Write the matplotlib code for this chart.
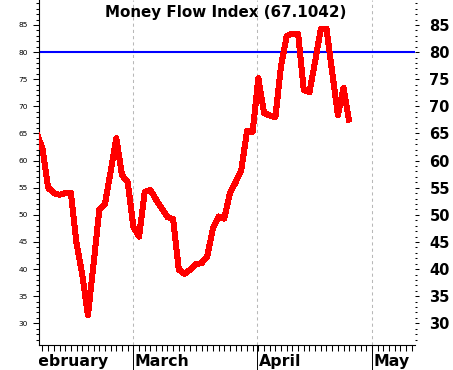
import matplotlib
matplotlib.use('Agg')
import matplotlib.pyplot as plt
import numpy as np
from matplotlib.transforms import Bbox, TransformedBbox, blended_transform_factory, offset_copy

plt.rcParams['font.family'] = ['DejaVu Sans']

# ---- data (trading-day index, Money Flow Index value) ----
days = list(range(-1, 55))
mfi = [65.0, 62.2, 55.0, 54.0, 53.7, 54.0, 54.0, 44.7, 39.0, 31.5,
       41.0, 50.9, 52.0, 58.0, 64.1, 57.3, 56.1, 47.8, 46.0, 54.2,
       54.6, 52.8, 51.2, 49.6, 49.2, 39.9, 39.1, 39.9, 40.9, 41.1,
       42.3, 47.5, 49.7, 49.3, 54.0, 56.0, 58.3, 65.4, 65.3, 75.2,
       68.8, 68.3, 68.0, 77.5, 83.0, 83.4, 83.4, 73.0, 72.6, 78.3,
       84.3, 84.3, 76.3, 68.4, 73.4, 67.1]
months = ['February', 'March', 'April', 'May']
month_start = [-2.75, 15.85, 37.85, 57.95]
overbought = 80
yticks_major = list(range(30, 90, 5))
yticks_minor = list(range(27, 90))
title = 'Money Flow Index (67.1042)'

W, H = 453, 370
fig = plt.figure(figsize=(W / 100, H / 100), dpi=100)
L = 39.3 / W
R = 415 / W
B = 1 - 344.5 / H
T = 1.0
ax = fig.add_axes([L, B, R - L, T - B])
ax.set_xlim(-0.56, 65.58)
ax.set_ylim(26.1, 89.6)

# month grid lines
for m in month_start[1:]:
    ax.axvline(m, color='#b8b8b8', lw=0.75, ls=(0, (3, 3)), zorder=1)

ax.axhline(overbought, color='#0000ff', lw=1.5, zorder=2)
ax.plot(days, mfi, color='#ff0000', lw=3.6, antialiased=False,
        solid_joinstyle='round', solid_capstyle='butt', zorder=3)

# spines
for s in ['top', 'right']:
    ax.spines[s].set_visible(False)
for s in ['left', 'bottom']:
    ax.spines[s].set_linewidth(0.8)
    ax.spines[s].set_color('black')

# x ticks: one per trading day
ax.set_xticks(np.arange(0, 66))
ax.set_xticklabels([])
ax.tick_params(axis='x', which='major', length=4.3, width=0.75, direction='out', color='black')

# left y axis
ax.set_yticks(yticks_major)
ax.set_yticks(yticks_minor, minor=True)
ax.set_yticklabels([str(v) for v in yticks_major])
ax.tick_params(axis='y', which='major', length=4.1, width=0.75, pad=4.0, labelsize=5.3, colors='black')
ax.tick_params(axis='y', which='minor', length=2.2, width=0.75, colors='black')

# right y axis
ax2 = ax.twinx()
ax2.set_ylim(ax.get_ylim())
for s in ax2.spines.values():
    s.set_visible(False)
ax2.set_yticks(yticks_major)
ax2.set_yticks(yticks_minor, minor=True)
ax2.set_yticklabels([str(v) for v in yticks_major], fontweight='bold')
ax2.tick_params(axis='y', which='major', length=2.9, width=0.75, pad=7.5, labelsize=10.5, colors='black')
ax2.tick_params(axis='y', which='minor', length=1.5, width=0.75, colors='black')

# month separators and labels below the axis
blend = blended_transform_factory(ax.transData, ax.transAxes)
for m in month_start[1:]:
    ax.plot([m, m], [0, -0.12], transform=blend, color='black', lw=0.7,
            clip_on=False, antialiased=True)

clip = TransformedBbox(Bbox([[L, 0], [1, B]]), fig.transFigure)
lab_tr = offset_copy(blend, fig=fig, x=1.8, y=0, units='dots')
for name, m in zip(months, month_start):
    t = fig.text(m, -0.0624, name, transform=lab_tr, ha='left', va='baseline',
                 fontsize=11.3, fontweight='bold', color='black')
    t.set_clip_box(clip)
    t.set_clip_on(True)

fig.text(0.499, 1 - 16.7 / H, title, ha='center', va='baseline',
         fontsize=10.9, fontweight='bold', color='black')

fig.savefig('out.png', dpi=100)
